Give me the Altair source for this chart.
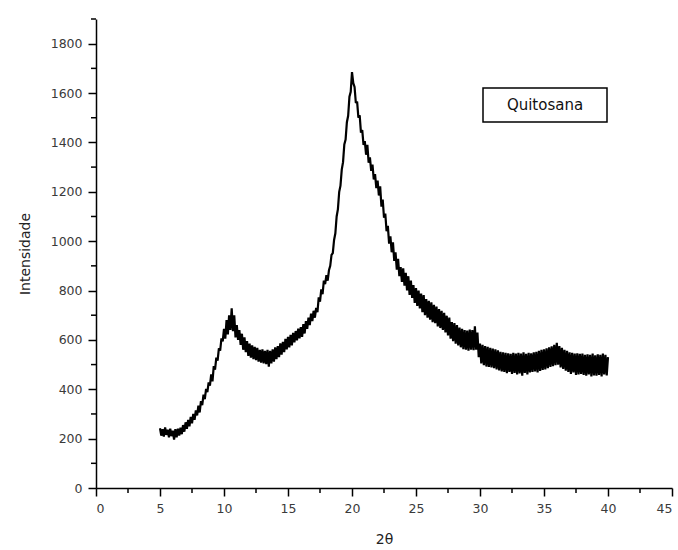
import altair as alt
import pandas as pd
import numpy as np

# 2-theta sampling: start 5.0, step 0.1
theta_start = 5.0
theta_step = 0.1
intensity = [
    242, 212, 238, 208, 245, 215, 236, 205, 240, 210,      # 5
    232, 196, 238, 205, 240, 212, 244, 218, 255, 228,      # 6
    266, 240, 276, 250, 288, 262, 300, 276, 314, 294,      # 7
    334, 306, 352, 336, 378, 360, 402, 388, 428, 415,      # 8
    460, 432, 494, 480, 528, 516, 566, 556, 606, 594,      # 9
    645, 605, 680, 622, 700, 640, 728, 635, 700, 610,      # 10
    660, 600, 640, 580, 625, 560, 610, 550, 595, 535,      # 11
    585, 528, 578, 522, 572, 518, 568, 512, 560, 508,      # 12
    562, 505, 556, 502, 560, 492, 556, 505, 562, 512,      # 13
    570, 522, 575, 530, 586, 540, 592, 550, 604, 562,      # 14
    612, 570, 620, 578, 628, 590, 636, 598, 646, 606,      # 15
    652, 612, 664, 626, 676, 645, 690, 660, 706, 676,      # 16
    718, 690, 730, 712, 772, 755, 805, 785, 840, 826,      # 17
    862, 840, 882, 900, 944, 952, 1005, 1032, 1100, 1130,  # 18
    1200, 1225, 1290, 1320, 1392, 1412, 1482, 1508, 1585, 1605,  # 19
    1685, 1640, 1625, 1560, 1565, 1500, 1510, 1440, 1450, 1390,  # 20
    1405, 1350, 1390, 1318, 1340, 1285, 1310, 1250, 1272, 1215,  # 21
    1245, 1185, 1222, 1140, 1168, 1095, 1112, 1040, 1062, 990,   # 22
    1020, 955, 995, 920, 955, 885, 928, 858, 895, 835,     # 23
    890, 820, 872, 800, 858, 782, 840, 770, 822, 750,      # 24
    810, 738, 800, 728, 788, 712, 782, 700, 765, 690,      # 25
    758, 682, 752, 672, 742, 668, 735, 655, 725, 648,      # 26
    718, 640, 710, 630, 698, 618, 690, 605, 672, 595,      # 27
    668, 585, 660, 578, 650, 570, 645, 562, 640, 560,      # 28
    638, 556, 642, 560, 640, 558, 655, 560, 630, 530,      # 29
    585, 505, 580, 498, 575, 492, 572, 490, 568, 488,      # 30
    565, 485, 562, 480, 558, 476, 552, 472, 550, 470,      # 31
    548, 465, 546, 470, 544, 462, 548, 466, 545, 460,      # 32
    548, 464, 545, 455, 550, 466, 544, 460, 548, 468,      # 33
    546, 470, 550, 472, 552, 468, 556, 474, 560, 478,      # 34
    562, 480, 566, 485, 570, 490, 574, 494, 580, 498,      # 35
    588, 500, 575, 488, 568, 482, 560, 475, 556, 470,      # 36
    550, 462, 548, 468, 545, 458, 546, 460, 544, 462,      # 37
    545, 458, 540, 455, 542, 460, 540, 452, 545, 456,      # 38
    538, 455, 542, 458, 540, 452, 545, 460, 540, 456,      # 39
    530,                                                   # 40
]
two_theta = [round(theta_start + theta_step * i, 2) for i in range(len(intensity))]

x_major = [0, 5, 10, 15, 20, 25, 30, 35, 40, 45]
x_minor = [2.5, 7.5, 12.5, 17.5, 22.5, 27.5, 32.5, 37.5, 42.5]
y_major = [0, 200, 400, 600, 800, 1000, 1200, 1400, 1600, 1800]
y_minor = [100, 300, 500, 700, 900, 1100, 1300, 1500, 1700, 1900]
legend_label = ["Quitosana"]

W, H = 576, 469

df = pd.DataFrame({"x": two_theta, "y": intensity})

xscale = alt.Scale(domain=[0, 45], nice=False, zero=False)
yscale = alt.Scale(domain=[0, 1900], nice=False)

line = alt.Chart(df).mark_line(color="black", strokeWidth=2.2,
                               strokeJoin="miter", strokeMiterLimit=2).encode(
    x=alt.X("x:Q", scale=xscale,
            axis=alt.Axis(values=x_major, title="2θ", format="d",
                          titlePadding=18)),
    y=alt.Y("y:Q", scale=yscale,
            axis=alt.Axis(values=y_major, title="Intensidade", format="d",
                          titlePadding=18)),
)

xmin = alt.Chart(pd.DataFrame({"v": x_minor})).mark_rule(
    color="black", strokeWidth=1.5).encode(
    x=alt.X("v:Q", scale=xscale), y=alt.value(H), y2=alt.value(H + 5))

ymin = alt.Chart(pd.DataFrame({"v": y_minor})).mark_rule(
    color="black", strokeWidth=1.5).encode(
    y=alt.Y("v:Q", scale=yscale), x=alt.value(0), x2=alt.value(-5))

lab = pd.DataFrame({"label": legend_label})
box = alt.Chart(lab).mark_rect(fill="white", stroke="black", strokeWidth=1.5).encode(
    x=alt.value(387), x2=alt.value(511), y=alt.value(69), y2=alt.value(103))
txt = alt.Chart(lab).mark_text(font="DejaVu Sans", fontSize=15, color="#111111",
                               align="center", baseline="middle").encode(
    x=alt.value(449), y=alt.value(86), text="label:N")

chart = alt.layer(line, xmin, ymin, box, txt).properties(
    width=W, height=H,
    autosize=alt.AutoSizeParams(type="none"),
    padding={"left": 96, "top": 19, "right": 6, "bottom": 62},
).configure_view(stroke=None).configure_axis(
    grid=False,
    domainColor="black", domainWidth=1.5,
    tickColor="black", tickWidth=1.5, tickSize=8,
    labelFont="DejaVu Sans", labelFontSize=12.5, labelColor="#3a3a3a",
    labelPadding=6,
    titleFont="DejaVu Sans", titleFontSize=14, titleFontWeight="normal",
    titleColor="#222222",
)

chart.save("out.html", embed_options={"renderer": "svg", "actions": False})
